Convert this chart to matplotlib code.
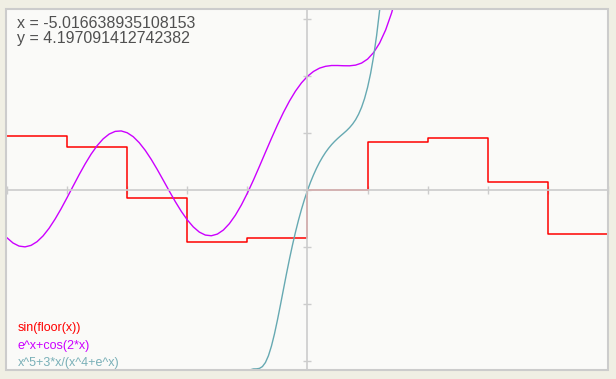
import numpy as np
import matplotlib
matplotlib.use("Agg")
import matplotlib.pyplot as plt
from matplotlib.patches import Rectangle

# sin(floor(x)) : one level per integer step
step_x = [-5, -4, -3, -2, -1, 0, 1, 2, 3, 4]
step_y = [0.96, 0.76, -0.14, -0.91, -0.84, 0.0, 0.84, 0.91, 0.14, -0.76]

# e^x+cos(2*x), values
mag_x = [-5.0, -4.9, -4.8, -4.7, -4.6, -4.5, -4.4, -4.3, -4.2, -4.1, -4.0,
         -3.9, -3.8, -3.7, -3.6, -3.5, -3.4, -3.3, -3.2, -3.1, -3.0,
         -2.9, -2.8, -2.7, -2.6, -2.5, -2.4, -2.3, -2.2, -2.1, -2.0,
         -1.9, -1.8, -1.7, -1.6, -1.5, -1.4, -1.3, -1.2, -1.1, -1.0,
         -0.9, -0.8, -0.7, -0.6, -0.5, -0.4, -0.3, -0.2, -0.1, 0.0,
         0.1, 0.2, 0.3, 0.4, 0.5, 0.6, 0.7, 0.8, 0.9, 1.0,
         1.1, 1.2, 1.3, 1.4, 1.5, 1.6]
mag_y = [-0.832, -0.923, -0.977, -0.991, -0.965, -0.900, -0.799, -0.665, -0.504, -0.323, -0.127,
         0.074, 0.274, 0.463, 0.636, 0.784, 0.903, 0.987, 1.034, 1.042, 1.010,
         0.941, 0.836, 0.702, 0.543, 0.366, 0.178, -0.012, -0.197, -0.368, -0.518,
         -0.641, -0.732, -0.784, -0.796, -0.767, -0.696, -0.584, -0.436, -0.256, -0.048,
         0.179, 0.420, 0.667, 0.911, 1.147, 1.367, 1.566, 1.740, 1.885, 2.000,
         2.085, 2.143, 2.175, 2.189, 2.189, 2.185, 2.184, 2.196, 2.232, 2.302,
         2.416, 2.583, 2.812, 3.113, 3.492, 3.955]

# x^5+3*x/(x^4+e^x)
teal_x = [-1.0, -0.95, -0.9, -0.85, -0.8, -0.75, -0.7, -0.65, -0.6, -0.55,
          -0.5, -0.45, -0.4, -0.35, -0.3, -0.25, -0.2, -0.15, -0.1, -0.05,
          0.0, 0.05, 0.1, 0.15, 0.2, 0.25, 0.3, 0.35, 0.4, 0.45,
          0.5, 0.55, 0.6, 0.65, 0.7, 0.75, 0.8, 0.85, 0.9, 0.95,
          1.0, 1.05, 1.1, 1.15, 1.2, 1.25, 1.3]
teal_y = [-3.193, -3.146, -3.131, -3.130, -3.122, -3.090, -3.019, -2.900, -2.731, -2.519,
          -2.273, -2.008, -1.735, -1.464, -1.204, -0.959, -0.732, -0.523, -0.332, -0.158,
          0.0, 0.143, 0.271, 0.387, 0.491, 0.583, 0.665, 0.737, 0.801, 0.857,
          0.908, 0.955, 1.000, 1.047, 1.100, 1.162, 1.238, 1.335, 1.457, 1.612,
          1.807, 2.050, 2.349, 2.715, 3.156, 3.684, 4.311]

labels = ['sin(floor(x))', 'e^x+cos(2*x)', 'x^5+3*x/(x^4+e^x)']
colors = ['#ff0000', '#cc00ff', '#66a9b2']

W, H = 616, 379
fig = plt.figure(figsize=(W / 100, H / 100), dpi=100, facecolor='#f0efe4')
ax = fig.add_axes([6 / W, (H - 370) / H, 602 / W, 361 / H])
ax.set_facecolor('#fafaf8')
ax.set_xlim(-5.0166, 5.0)
ax.set_ylim(-3.15, 3.18)

# axes through the origin
for s in ['top', 'right']:
    ax.spines[s].set_visible(False)
ax.spines['left'].set_position(('data', 0))
ax.spines['bottom'].set_position(('data', 0))
ax.spines['left'].set_color('#cccccc')
ax.spines['bottom'].set_color('#cccccc')
ax.spines['left'].set_linewidth(1.2)
ax.spines['bottom'].set_linewidth(1.2)
ax.set_xticks(range(-5, 6))
ax.set_yticks(range(-3, 4))
ax.tick_params(direction='inout', length=6, width=1, colors='#cccccc',
               labelleft=False, labelbottom=False)
ax.add_patch(Rectangle((0, 0), 1, 1, transform=ax.transAxes, fill=False,
                       edgecolor='#cccccc', lw=1.5, clip_on=False, zorder=5))

sx = step_x + [5]
sy = step_y + [step_y[-1]]
ax.plot(sx, sy, drawstyle='steps-post', color=colors[0], lw=1.1)
ax.plot(mag_x, mag_y, color=colors[1], lw=1.0)
ax.plot(teal_x, teal_y, color=colors[2], lw=1.0)

ax.text(11 / 602, 1 - 7 / 361, 'x = -5.016638935108153\ny = 4.197091412742382',
        transform=ax.transAxes, ha='left', va='top', fontsize=11.5,
        family='Liberation Sans', color='#505050', linespacing=1.0)

for i, (lab, c) in enumerate(zip(labels, colors)):
    tc = '#7ab0b8' if i == 2 else c
    ax.text(12 / 602, (361 - 313 - 17.5 * i) / 361, lab, transform=ax.transAxes,
            ha='left', va='top', fontsize=9, family='Liberation Sans', color=tc)

fig.savefig('out.png', dpi=100, facecolor=fig.get_facecolor())
